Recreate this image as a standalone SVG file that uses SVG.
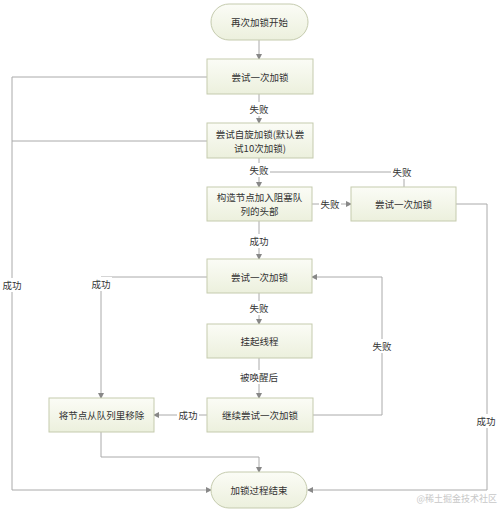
<svg xmlns="http://www.w3.org/2000/svg" width="500" height="521" viewBox="0 0 500 521">
<defs>
<linearGradient id="g" x1="0" y1="0" x2="0" y2="1">
<stop offset="0" stop-color="#fbfcf6"/>
<stop offset="1" stop-color="#ecf0dd"/>
</linearGradient>
<marker id="a" markerWidth="6" markerHeight="6" refX="5" refY="3" orient="auto" markerUnits="userSpaceOnUse">
<path d="M0,0 L6,3 L0,6 Z" fill="#888"/>
</marker>
<style>
.n{fill:url(#g);stroke:#c5cbae;stroke-width:1}
.t{font-family:"Noto Sans CJK SC","Liberation Sans",sans-serif;font-size:9.5px;fill:#333;text-anchor:middle;dominant-baseline:central}
.c{fill:none;stroke:#aaa;stroke-width:1}
.c.ar{marker-end:url(#a)}
.lb{fill:#fff}
</style>
</defs>
<rect width="500" height="521" fill="#fff"/>
<g id="connectors">
<path class="c ar" d="M259,40 V59"/>
<path class="c ar" d="M259,94 V123"/>
<path class="c ar" d="M259,158 V187"/>
<path class="c" d="M270,172 H404 V187"/>
<path class="c ar" d="M312,204 H351"/>
<path class="c ar" d="M456,204 H487 V490 H308"/>
<path class="c ar" d="M259,221 V259"/>
<path class="c ar" d="M207,277 H101 V398"/>
<path class="c ar" d="M259,293 V324"/>
<path class="c ar" d="M259,358 V398"/>
<path class="c ar" d="M207,415 H154"/>
<path class="c ar" d="M313,415 H382 V277 H312"/>
<path class="c ar" d="M101,432 V457 H259 V472"/>
<path class="c" d="M207,141 H12"/>
<path class="c ar" d="M207,77 H12 V490 H211"/>
</g>
<g id="labels">
<rect class="lb" x="248" y="102" width="22" height="14"/><text class="t" x="259" y="109">失败</text>
<rect class="lb" x="248" y="163" width="22" height="14"/><text class="t" x="259" y="170">失败</text>
<rect class="lb" x="391" y="165" width="22" height="14"/><text class="t" x="402" y="172">失败</text>
<rect class="lb" x="319" y="197" width="22" height="14"/><text class="t" x="330" y="204">失败</text>
<rect class="lb" x="248" y="234" width="22" height="14"/><text class="t" x="259" y="241">成功</text>
<rect class="lb" x="1" y="278" width="22" height="14"/><text class="t" x="12" y="285">成功</text>
<rect class="lb" x="90" y="277" width="22" height="14"/><text class="t" x="101" y="284">成功</text>
<rect class="lb" x="248" y="301" width="22" height="14"/><text class="t" x="259" y="308">失败</text>
<rect class="lb" x="371" y="339" width="22" height="14"/><text class="t" x="382" y="346">失败</text>
<rect class="lb" x="241" y="370" width="36" height="14"/><text class="t" x="259" y="377">被唤醒后</text>
<rect class="lb" x="177" y="408" width="22" height="14"/><text class="t" x="188" y="415">成功</text>
<rect class="lb" x="475" y="414" width="22" height="14"/><text class="t" x="486" y="421">成功</text>
</g>
<g id="start"><rect class="n" x="211" y="4" width="97" height="36" rx="18"/><text class="t" x="259.5" y="22">再次加锁开始</text></g>
<g id="try1"><rect class="n" x="207" y="59" width="106" height="35"/><text class="t" x="260" y="77">尝试一次加锁</text></g>
<g id="spin"><rect class="n" x="207" y="123" width="106" height="35"/><text class="t" x="260" y="134">尝试自旋加锁(默认尝</text><text class="t" x="260" y="148">试10次加锁)</text></g>
<g id="enqueue"><rect class="n" x="207" y="187" width="105" height="34"/><text class="t" x="259.5" y="197">构造节点加入阻塞队</text><text class="t" x="259.5" y="211">列的头部</text></g>
<g id="try2"><rect class="n" x="351" y="187" width="105" height="34"/><text class="t" x="403.5" y="204">尝试一次加锁</text></g>
<g id="try3"><rect class="n" x="207" y="259" width="105" height="34"/><text class="t" x="259.5" y="277">尝试一次加锁</text></g>
<g id="park"><rect class="n" x="207" y="324" width="105" height="34"/><text class="t" x="259.5" y="341">挂起线程</text></g>
<g id="retry"><rect class="n" x="207" y="398" width="106" height="34"/><text class="t" x="260" y="415">继续尝试一次加锁</text></g>
<g id="remove"><rect class="n" x="49" y="398" width="105" height="34"/><text class="t" x="101.5" y="415">将节点从队列里移除</text></g>
<g id="end"><rect class="n" x="211" y="472" width="96" height="36" rx="18"/><text class="t" x="259" y="490">加锁过程结束</text></g>
<text x="497" y="502" style="font-family:'Noto Sans CJK SC',sans-serif;font-size:9px;fill:#c8c8c8;text-anchor:end">@稀土掘金技术社区</text>
</svg>
